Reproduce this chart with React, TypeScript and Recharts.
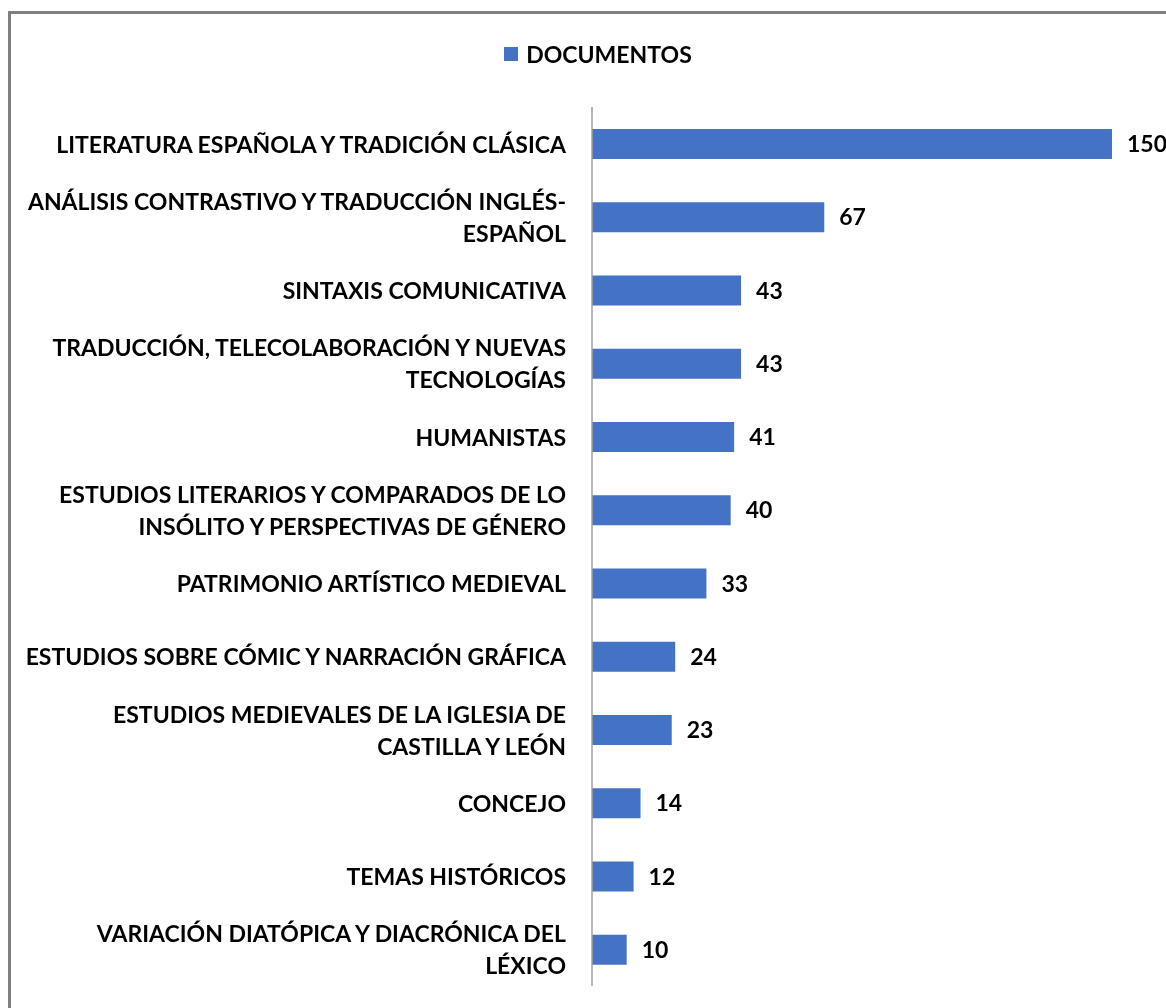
import { Bar, BarChart, LabelList, Legend, XAxis, YAxis } from "recharts";

const categories = [
  "LITERATURA ESPAÑOLA Y TRADICIÓN CLÁSICA",
  "ANÁLISIS CONTRASTIVO Y TRADUCCIÓN INGLÉS-\nESPAÑOL",
  "SINTAXIS COMUNICATIVA",
  "TRADUCCIÓN, TELECOLABORACIÓN Y NUEVAS\nTECNOLOGÍAS",
  "HUMANISTAS",
  "ESTUDIOS LITERARIOS Y COMPARADOS DE LO\nINSÓLITO Y PERSPECTIVAS DE GÉNERO",
  "PATRIMONIO ARTÍSTICO MEDIEVAL",
  "ESTUDIOS SOBRE CÓMIC Y NARRACIÓN GRÁFICA",
  "ESTUDIOS MEDIEVALES DE LA IGLESIA DE\nCASTILLA Y LEÓN",
  "CONCEJO",
  "TEMAS HISTÓRICOS",
  "VARIACIÓN DIATÓPICA Y DIACRÓNICA DEL\nLÉXICO",
];

const documentos = [150, 67, 43, 43, 41, 40, 33, 24, 23, 14, 12, 10];

const data = categories.map((name, i) => ({ name, documentos: documentos[i] }));

const FONT = "Lato, 'Open Sans', sans-serif";
const FONT_SIZE = 23;

function CategoryTick(props: any) {
  const { x, y, payload } = props;
  const lines = String(payload.value).split("\n");
  const lineHeight = 32;
  const startY = y - ((lines.length - 1) * lineHeight) / 2;
  return (
    <text
      x={x - 18}
      y={startY}
      textAnchor="end"
      dominantBaseline="central"
      fill="#000"
      fontFamily={FONT}
      fontWeight={700}
      fontSize={FONT_SIZE}
    >
      {lines.map((line, i) => (
        <tspan key={i} x={x - 18} y={startY + i * lineHeight}>
          {line}
        </tspan>
      ))}
    </text>
  );
}

function LegendContent() {
  return (
    <div
      style={{
        display: "flex",
        justifyContent: "center",
        alignItems: "center",
        height: 25,
        paddingLeft: 22,
        fontFamily: FONT,
        fontWeight: 700,
        fontSize: FONT_SIZE,
        color: "#000",
      }}
    >
      <span
        style={{
          display: "inline-block",
          width: 14,
          height: 14,
          background: "#4472C4",
          marginRight: 8,
        }}
      />
      DOCUMENTOS
    </div>
  );
}

export default function App() {
  return (
    <div
      style={{
        position: "fixed",
        left: 8,
        top: 11,
        width: 1158,
        height: 997,
        borderTop: "3px solid #808080",
        borderLeft: "3px solid #808080",
        boxSizing: "border-box",
        overflow: "hidden",
      }}
    >
      <div style={{ position: "absolute", left: -3, top: -6 }}>
        <BarChart
          width={1158}
          height={1000}
          data={data}
          layout="vertical"
          margin={{ top: 74, right: 54, bottom: 22, left: 0 }}
          style={{ overflow: "visible" }}
        >
          <Legend
            verticalAlign="top"
            height={25}
            content={<LegendContent />}
            wrapperStyle={{ top: 33, left: 0, width: 1158 }}
          />
          <XAxis type="number" domain={[0, 150]} hide />
          <YAxis
            type="category"
            dataKey="name"
            width={584}
            axisLine={{ stroke: "#a0a0a0", strokeWidth: 1.5 }}
            tickLine={false}
            tick={<CategoryTick />}
            interval={0}
          />
          <Bar
            dataKey="documentos"
            fill="#4472C4"
            barSize={30}
            isAnimationActive={false}
            name="DOCUMENTOS"
          >
            <LabelList
              dataKey="documentos"
              position="right"
              offset={15}
              fill="#000"
              fontFamily={FONT}
              fontWeight={700}
              fontSize={FONT_SIZE}
            />
          </Bar>
        </BarChart>
      </div>
    </div>
  );
}
